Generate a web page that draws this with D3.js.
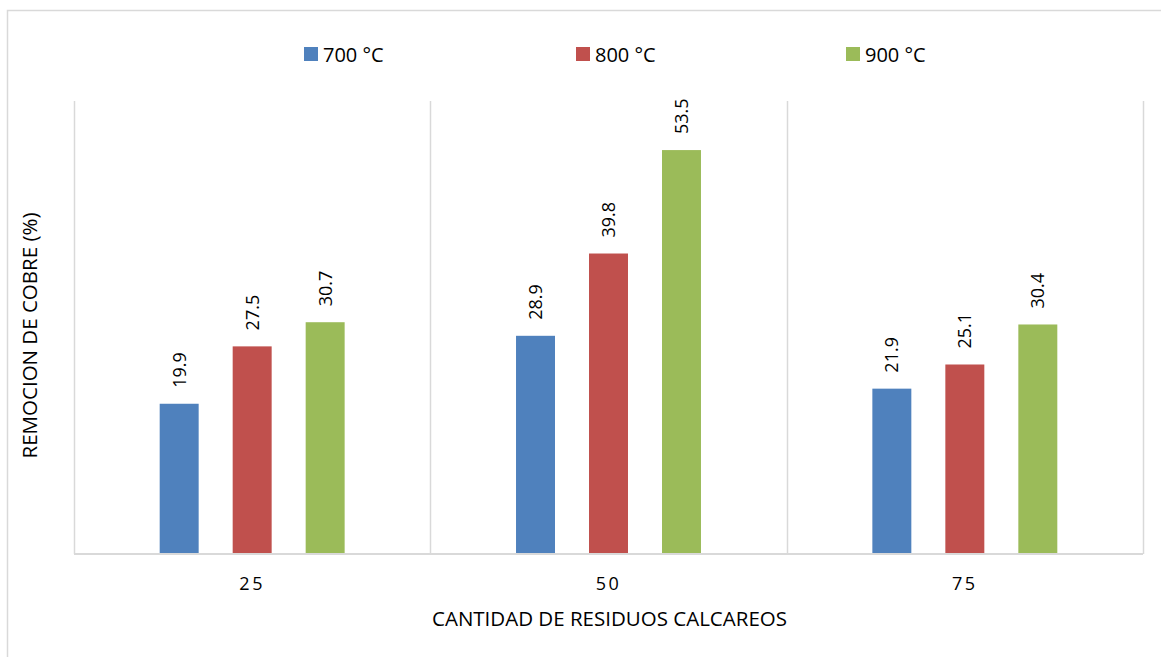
<!DOCTYPE html>
<html>
<head>
<meta charset="utf-8">
<script src="https://cdn.jsdelivr.net/npm/d3@7"></script>
<style>
  html, body { margin: 0; padding: 0; background: #fff; }
  svg { display: block; font-family: "Open Sans", "Noto Sans", sans-serif; }
</style>
</head>
<body>
<svg id="chart" width="1161" height="657"></svg>
<script>
// Residue amount categories and copper removal (%) per calcination temperature
const categories = ["25", "50", "75"];
const seriesNames = ["700 °C", "800 °C", "900 °C"];
const values700 = [19.9, 28.9, 21.9];
const values800 = [27.5, 39.8, 25.1];
const values900 = [30.7, 53.5, 30.4];
const seriesColors = ["#4F81BD", "#C0504D", "#9BBB59"];

const seriesValues = [values700, values800, values900];
const rows = categories.map((c, i) => ({
  cat: c,
  vals: seriesNames.map((s, j) => ({ key: s, idx: j, value: seriesValues[j][i] }))
}));

const svg = d3.select("#chart");
const plot = { left: 74, right: 1143, top: 101, bottom: 554 };

// Outer chart frame (only the top and left edges fall inside the view)
svg.append("path")
  .attr("d", "M7.5,657 V10.5 H1161")
  .attr("fill", "none")
  .attr("stroke", "#d9d9d9")
  .attr("stroke-width", 1.5);

const x0 = d3.scaleBand().domain(categories).range([plot.left, plot.right]).padding(0);
const x1 = d3.scaleBand().domain(seriesNames).range([0, x0.bandwidth()])
  .paddingInner(0.466).paddingOuter(1.174);
const y = d3.scaleLinear().domain([0, 60]).range([plot.bottom, plot.top]);

// Category separators and plot edges
const gridG = svg.append("g");
const edges = [plot.left].concat(categories.map(c => x0(c) + x0.bandwidth()));
gridG.selectAll("line.sep").data(edges).join("line")
  .attr("class", "sep")
  .attr("x1", d => Math.round(d) + 0.5).attr("x2", d => Math.round(d) + 0.5)
  .attr("y1", plot.top).attr("y2", plot.bottom)
  .attr("stroke", "#d9d9d9").attr("stroke-width", 1.5);

// Bars
const groups = svg.append("g").selectAll("g").data(rows).join("g")
  .attr("transform", d => `translate(${x0(d.cat)},0)`);

groups.selectAll("rect").data(d => d.vals).join("rect")
  .attr("x", d => x1(d.key))
  .attr("width", x1.bandwidth())
  .attr("y", d => y(d.value))
  .attr("height", d => y(0) - y(d.value))
  .attr("fill", d => seriesColors[d.idx]);

// Value labels, rotated, above each bar
groups.selectAll("text").data(d => d.vals).join("text")
  .attr("transform", d => `translate(${x1(d.key) + x1.bandwidth() / 2 + 6.5},${y(d.value) - 16}) rotate(-90)`)
  .attr("text-anchor", "start")
  .attr("font-size", 18)
  .attr("fill", "#000")
  .text(d => d.value.toFixed(1));

// Baseline axis
const xAxis = d3.axisBottom(x0).tickSize(0).tickPadding(0);
const xg = svg.append("g").attr("transform", `translate(0,${plot.bottom})`).call(xAxis);
xg.select(".domain").attr("stroke", "#d9d9d9").attr("stroke-width", 2)
  .attr("d", `M${plot.left},0H${plot.right}`);
xg.selectAll(".tick text")
  .attr("y", 35.5)
  .attr("dy", 0)
  .attr("font-size", 18)
  .attr("letter-spacing", "2.5px")
  .attr("font-family", "'Open Sans', sans-serif")
  .attr("fill", "#000");

// Axis titles
svg.append("text")
  .attr("x", (plot.left + plot.right) / 2 + 1)
  .attr("y", 626)
  .attr("text-anchor", "middle")
  .attr("font-size", 20.5)
  .attr("fill", "#000")
  .text("CANTIDAD DE RESIDUOS CALCAREOS");

svg.append("text")
  .attr("transform", `translate(37,${(plot.top + plot.bottom) / 2 + 8}) rotate(-90)`)
  .attr("text-anchor", "middle")
  .attr("font-size", 20.5)
  .attr("fill", "#000")
  .text("REMOCION DE COBRE (%)");

// Legend
const legendX = [304, 576, 846];
const legend = svg.append("g").selectAll("g").data(seriesNames).join("g")
  .attr("transform", (d, i) => `translate(${legendX[i]},47)`);
legend.append("rect").attr("width", 14).attr("height", 14)
  .attr("fill", (d, i) => seriesColors[i]);
legend.append("text").attr("x", 19).attr("y", 15)
  .attr("font-size", 20).attr("fill", "#000")
  .text(d => d);
</script>
</body>
</html>
